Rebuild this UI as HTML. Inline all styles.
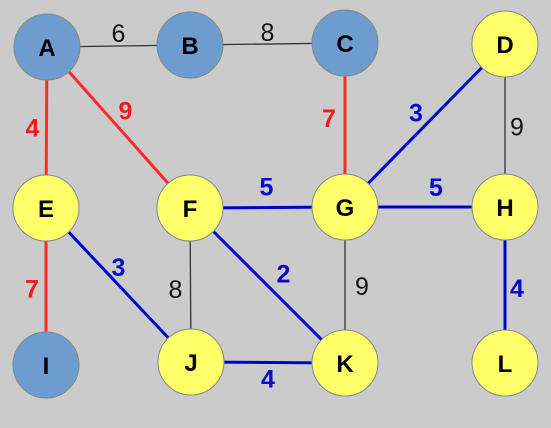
<!DOCTYPE html>
<html><head><meta charset="utf-8"><style>
html,body{margin:0;padding:0;background:#cbcbcb;}
svg{display:block;font-family:"Liberation Sans",sans-serif;}
</style></head><body>
<svg width="551" height="428" viewBox="0 0 551 428">
<rect width="551" height="428" fill="#cbcbcb"/>
<g id="edges"></g><g id="nodes"></g>
</svg>
<script>
const nodeNames=["A","B","C","D","E","F","G","H","I","J","K","L"];
const nodeX=[47,190,345,505,46,190,345,505,46,191,345,505];
const nodeY=[47,45,43,44,208,208,207,207,365,362,363,363];
const nodeKind=["blue","blue","blue","yellow","yellow","yellow","yellow","yellow","blue","yellow","yellow","yellow"];
const edgeFrom=["A","B","A","A","C","D","D","F","G","E","F","F","G","E","H","J"];
const edgeTo=["B","C","E","F","G","G","H","G","H","J","J","K","K","I","L","K"];
const edgeWeight=[6,8,4,9,7,3,9,5,5,3,8,2,9,7,4,4];
const edgeKind=["k","k","r","r","r","b","k","b","b","b","k","b","k","r","b","b"];
const labelDX=[0,0,-14,7,-16,-9,12,-1,11,0,-15,16,17,-14,12,0];
const labelDY=[-13,-12,0,-17,-7,-13,1,-21,-20,-18,4,-12,1,2,3,16];
const NS="http://www.w3.org/2000/svg";
const eg=document.getElementById("edges"),ng=document.getElementById("nodes");
const idx=n=>nodeNames.indexOf(n);
const col={k:"#333",r:"#ff2a2a",b:"#0000cc"};
const lcol={k:"#111",r:"#ee1c1c",b:"#0a0ac8"};
edgeFrom.forEach((f,i)=>{
  const a=idx(f),b=idx(edgeTo[i]);
  const l=document.createElementNS(NS,"line");
  l.setAttribute("x1",nodeX[a]);l.setAttribute("y1",nodeY[a]);
  l.setAttribute("x2",nodeX[b]);l.setAttribute("y2",nodeY[b]);
  l.setAttribute("stroke",col[edgeKind[i]]);
  l.setAttribute("stroke-width",edgeKind[i]==="k"?1.3:3);
  
  
  eg.appendChild(l);
  const t=document.createElementNS(NS,"text");
  t.setAttribute("x",(nodeX[a]+nodeX[b])/2+labelDX[i]);
  t.setAttribute("y",(nodeY[a]+nodeY[b])/2+labelDY[i]+9);
  t.setAttribute("text-anchor","middle");
  t.setAttribute("font-size","25");
  if(edgeKind[i]!=="k")t.setAttribute("font-weight","bold");
  t.setAttribute("fill",lcol[edgeKind[i]]);
  t.textContent=edgeWeight[i];
  
  
  eg.appendChild(t);
});
nodeNames.forEach((n,i)=>{
  const c=document.createElementNS(NS,"circle");
  c.setAttribute("cx",nodeX[i]);c.setAttribute("cy",nodeY[i]);c.setAttribute("r",33);
  c.setAttribute("fill",nodeKind[i]==="blue"?"#6e9ccf":"#ffff6a");
  c.setAttribute("stroke","#7f8a8a");c.setAttribute("stroke-width","1");
  
  
  ng.appendChild(c);
  const t=document.createElementNS(NS,"text");
  t.setAttribute("x",nodeX[i]);t.setAttribute("y",nodeY[i]+9);
  t.setAttribute("text-anchor","middle");t.setAttribute("font-size","24");
  t.setAttribute("font-weight","bold");t.setAttribute("fill","#000");
  t.textContent=n;
  
  
  ng.appendChild(t);
});
</script>
</body></html>
